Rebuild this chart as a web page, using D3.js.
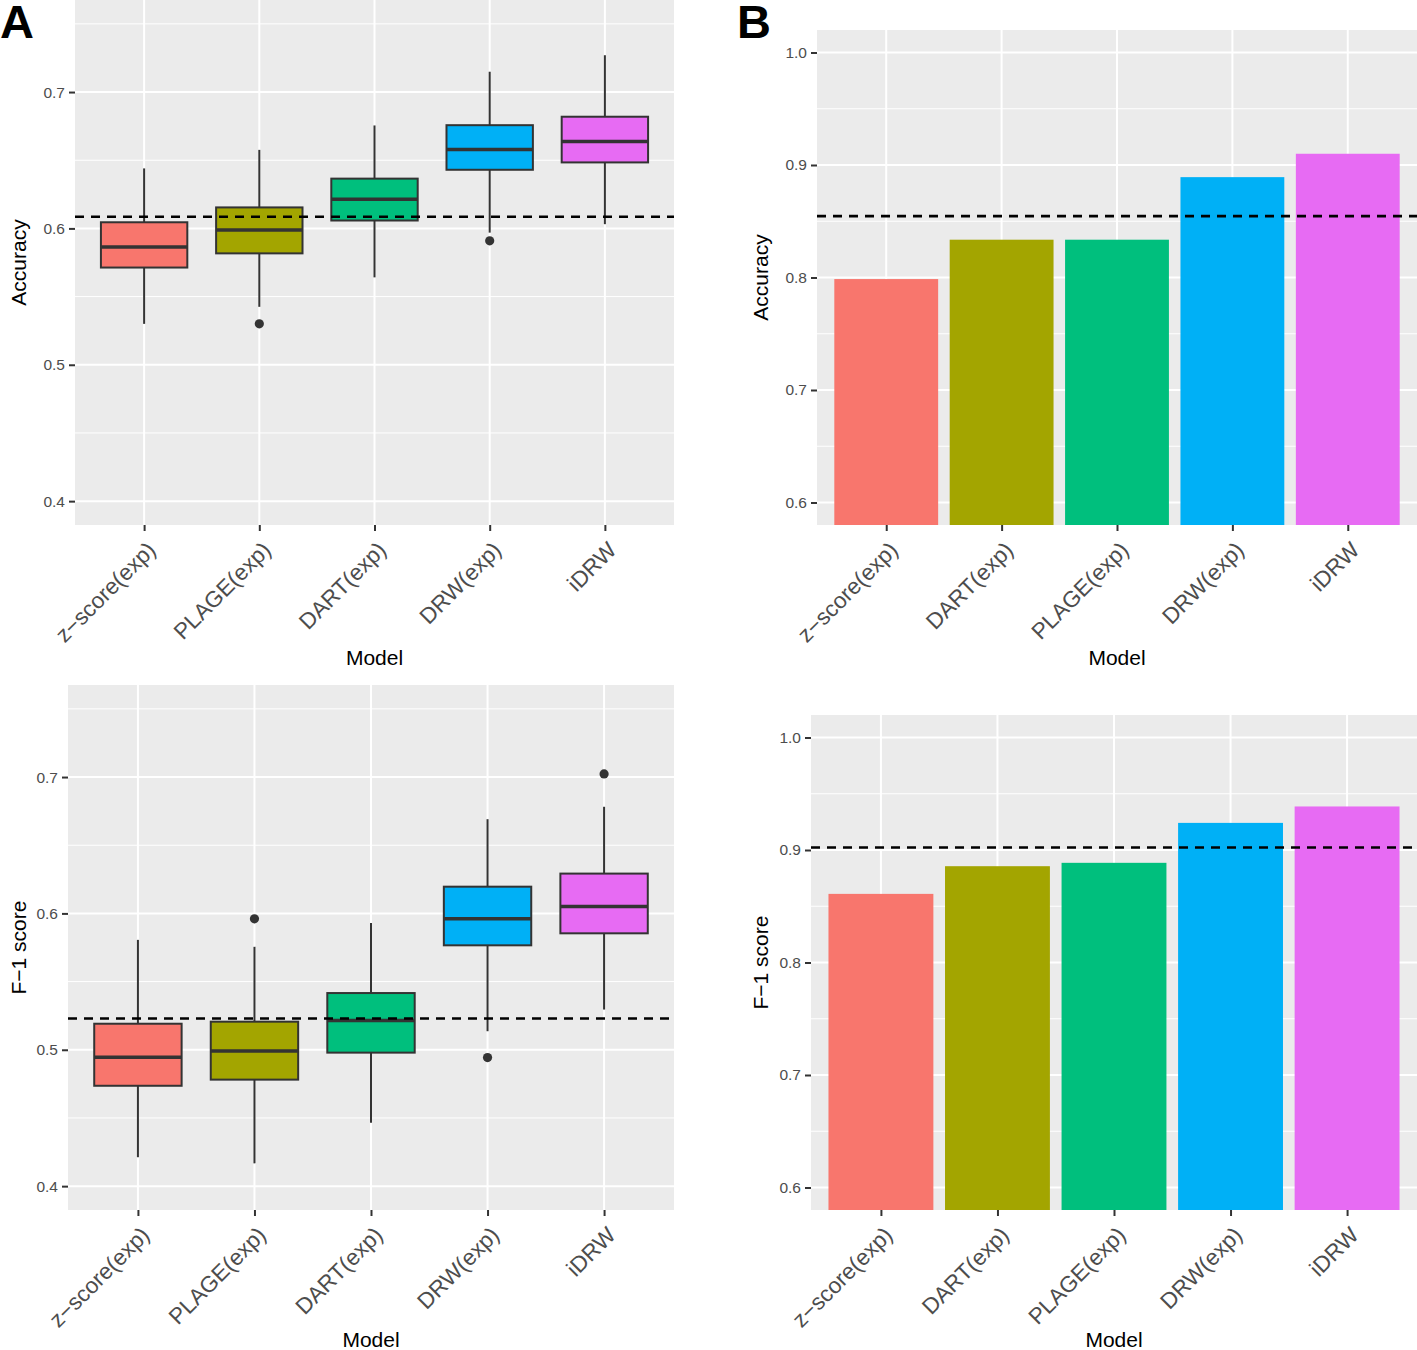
<!DOCTYPE html>
<html><head><meta charset="utf-8">
<script src="https://cdn.jsdelivr.net/npm/d3@7"></script>
<style>body{margin:0;background:#fff}</style>
</head><body>
<svg id="chart" width="1417" height="1350"></svg>
<script>
// ---------- data ----------
const boxModels = ["z\u2212score(exp)", "PLAGE(exp)", "DART(exp)", "DRW(exp)", "iDRW"];
const barModels = ["z\u2212score(exp)", "DART(exp)", "PLAGE(exp)", "DRW(exp)", "iDRW"];
const fillColors = ["#F8766D", "#A3A500", "#00BF7D", "#00B0F6", "#E76BF3"];

const boxTicks = [0.4, 0.5, 0.6, 0.7];
const boxMinor = [0.45, 0.55, 0.65, 0.75];
const boxLimits = [0.4, 0.75];
const barTicks = [0.6, 0.7, 0.8, 0.9, 1.0];
const barMinor = [0.65, 0.75, 0.85, 0.95];
const barLimits = [0.6, 1.0];

// Accuracy boxplots (panel A, top)
const accWhiskerLow  = [0.530, 0.5425, 0.5641, 0.5969, 0.6031];
const accQ1          = [0.5713, 0.5817, 0.6058, 0.6430, 0.6484];
const accMedian      = [0.5864, 0.5988, 0.6214, 0.6578, 0.6638];
const accQ3          = [0.6045, 0.6154, 0.6365, 0.6757, 0.6819];
const accWhiskerHigh = [0.6440, 0.6576, 0.6755, 0.7149, 0.7270];
const accOutliers    = [[], [0.530], [], [0.5909], []];
const accBaseline    = 0.6085;

// F-1 boxplots (panel A, bottom)
const f1WhiskerLow  = [0.4212, 0.4167, 0.4465, 0.5136, 0.5295];
const f1Q1          = [0.4736, 0.4781, 0.4979, 0.5766, 0.5854];
const f1Median      = [0.4946, 0.4991, 0.5214, 0.5960, 0.6051];
const f1Q3          = [0.5191, 0.5206, 0.5416, 0.6196, 0.6292];
const f1WhiskerHigh = [0.5806, 0.5755, 0.5930, 0.6691, 0.6782];
const f1Outliers    = [[], [0.596], [], [0.4943], [0.7023]];
const f1Baseline    = 0.5229;

// Bars (panel B)
const barAccuracy = [0.7986, 0.8336, 0.8336, 0.8892, 0.9100];
const barAccBaseline = 0.8546;
const barF1 = [0.8610, 0.8856, 0.8886, 0.9241, 0.9387];
const barF1Baseline = 0.9022;

// ---------- drawing ----------
const FONT = "'Liberation Sans', Arial, Helvetica, sans-serif";
const svg = d3.select("#chart");
svg.append("rect").attr("width", 1417).attr("height", 1350).attr("fill", "#fff");

let clipId = 0;
function frame(p) {
  const g = svg.append("g");
  const span = p.limits[1] - p.limits[0];
  const y = d3.scaleLinear()
    .domain([p.limits[0] - 0.05 * span, p.limits[1] + 0.05 * span])
    .range([p.bottom, p.top]);
  const x = d3.scalePoint().domain(p.cats).range([p.left, p.right]).padding(0.6);
  g.append("rect").attr("x", p.left).attr("y", p.top)
    .attr("width", p.right - p.left).attr("height", p.bottom - p.top).attr("fill", "#EBEBEB");
  g.selectAll(".minor").data(p.minor).join("line")
    .attr("x1", p.left).attr("x2", p.right).attr("y1", d => y(d)).attr("y2", d => y(d))
    .attr("stroke", "#fff").attr("stroke-width", 1);
  g.selectAll(".major").data(p.ticks).join("line")
    .attr("x1", p.left).attr("x2", p.right).attr("y1", d => y(d)).attr("y2", d => y(d))
    .attr("stroke", "#fff").attr("stroke-width", 2);
  g.selectAll(".vmajor").data(p.cats).join("line")
    .attr("x1", d => x(d)).attr("x2", d => x(d)).attr("y1", p.top).attr("y2", p.bottom)
    .attr("stroke", "#fff").attr("stroke-width", 2);
  const id = "clip" + (clipId++);
  svg.append("clipPath").attr("id", id).append("rect")
    .attr("x", p.left).attr("y", p.top).attr("width", p.right - p.left).attr("height", p.bottom - p.top);
  const plot = g.append("g").attr("clip-path", `url(#${id})`);
  return { g, plot, x, y };
}

function axes(f, p) {
  const ya = f.g.append("g").attr("transform", `translate(${p.left},0)`)
    .call(d3.axisLeft(f.y).tickValues(p.ticks).tickSize(6).tickPadding(4).tickFormat(d3.format(".1f")));
  ya.select(".domain").remove();
  ya.selectAll("line").attr("stroke", "#333").attr("stroke-width", 2);
  ya.selectAll("text").attr("fill", "#4d4d4d").style("font-size", "15.5px").style("font-family", FONT);

  const xa = f.g.append("g").attr("transform", `translate(0,${p.bottom})`)
    .call(d3.axisBottom(f.x).tickSize(6));
  xa.select(".domain").remove();
  xa.selectAll("line").attr("stroke", "#333").attr("stroke-width", 2);
  xa.selectAll("text")
    .attr("x", 0).attr("y", 0).attr("dy", "0.72em")
    .attr("text-anchor", "end")
    .attr("transform", "translate(1,15) rotate(-45)")
    .attr("fill", "#4d4d4d").style("font-size", "22.5px").style("font-family", FONT);

  f.g.append("text").text("Model")
    .attr("x", (p.left + p.right) / 2).attr("y", p.xTitleY)
    .attr("text-anchor", "middle").attr("fill", "#000")
    .style("font-size", "21px").style("font-family", FONT);
  f.g.append("text").text(p.yTitle)
    .attr("transform", `translate(${p.yTitleX},${(p.top + p.bottom) / 2}) rotate(-90)`)
    .attr("text-anchor", "middle").attr("fill", "#000")
    .style("font-size", "21px").style("font-family", FONT);
}

function hline(f, p, v) {
  f.plot.append("line").attr("x1", p.left).attr("x2", p.right)
    .attr("y1", f.y(v)).attr("y2", f.y(v))
    .attr("stroke", "#000").attr("stroke-width", 2.6).attr("stroke-dasharray", "9,7");
}

function boxPanel(p, lo, q1, med, q3, hi, outl, base) {
  const f = frame(p);
  const bw = 0.75 * f.x.step();
  const idx = d3.range(p.cats.length);
  const gg = f.plot.selectAll(".box").data(idx).join("g");
  gg.append("line").attr("x1", i => f.x(p.cats[i])).attr("x2", i => f.x(p.cats[i]))
    .attr("y1", i => f.y(lo[i])).attr("y2", i => f.y(q1[i]))
    .attr("stroke", "#333").attr("stroke-width", 2);
  gg.append("line").attr("x1", i => f.x(p.cats[i])).attr("x2", i => f.x(p.cats[i]))
    .attr("y1", i => f.y(q3[i])).attr("y2", i => f.y(hi[i]))
    .attr("stroke", "#333").attr("stroke-width", 2);
  gg.append("rect").attr("x", i => f.x(p.cats[i]) - bw / 2).attr("width", bw)
    .attr("y", i => f.y(q3[i])).attr("height", i => f.y(q1[i]) - f.y(q3[i]))
    .attr("fill", i => fillColors[i]).attr("stroke", "#333").attr("stroke-width", 2);
  gg.append("line").attr("x1", i => f.x(p.cats[i]) - bw / 2).attr("x2", i => f.x(p.cats[i]) + bw / 2)
    .attr("y1", i => f.y(med[i])).attr("y2", i => f.y(med[i]))
    .attr("stroke", "#333").attr("stroke-width", 3.5);
  gg.each(function (i) {
    d3.select(this).selectAll("circle").data(outl[i]).join("circle")
      .attr("cx", f.x(p.cats[i])).attr("cy", d => f.y(d)).attr("r", 4.6).attr("fill", "#333");
  });
  hline(f, p, base);
  axes(f, p);
}

function barPanel(p, vals, base) {
  const f = frame(p);
  const bw = 0.9 * f.x.step();
  f.plot.selectAll(".bar").data(d3.range(p.cats.length)).join("rect")
    .attr("x", i => f.x(p.cats[i]) - bw / 2).attr("width", bw)
    .attr("y", i => f.y(vals[i])).attr("height", i => f.y.range()[0] - f.y(vals[i]))
    .attr("fill", i => fillColors[i]);
  hline(f, p, base);
  axes(f, p);
}

boxPanel({ left: 75, right: 674, top: 0, bottom: 525, limits: boxLimits, ticks: boxTicks, minor: boxMinor,
  cats: boxModels, yTitle: "Accuracy", yTitleX: 26, xTitleY: 665 },
  accWhiskerLow, accQ1, accMedian, accQ3, accWhiskerHigh, accOutliers, accBaseline);

boxPanel({ left: 68, right: 674, top: 685, bottom: 1210, limits: boxLimits, ticks: boxTicks, minor: boxMinor,
  cats: boxModels, yTitle: "F\u22121 score", yTitleX: 26, xTitleY: 1347 },
  f1WhiskerLow, f1Q1, f1Median, f1Q3, f1WhiskerHigh, f1Outliers, f1Baseline);

barPanel({ left: 817, right: 1417, top: 30, bottom: 525, limits: barLimits, ticks: barTicks, minor: barMinor,
  cats: barModels, yTitle: "Accuracy", yTitleX: 768, xTitleY: 665 }, barAccuracy, barAccBaseline);

barPanel({ left: 811, right: 1417, top: 715, bottom: 1210, limits: barLimits, ticks: barTicks, minor: barMinor,
  cats: barModels, yTitle: "F\u22121 score", yTitleX: 768, xTitleY: 1347 }, barF1, barF1Baseline);

svg.append("text").text("A").attr("x", 0).attr("y", 38)
  .style("font-size", "47px").style("font-weight", "bold").style("font-family", FONT);
svg.append("text").text("B").attr("x", 737).attr("y", 38)
  .style("font-size", "47px").style("font-weight", "bold").style("font-family", FONT);
</script>
</body></html>
